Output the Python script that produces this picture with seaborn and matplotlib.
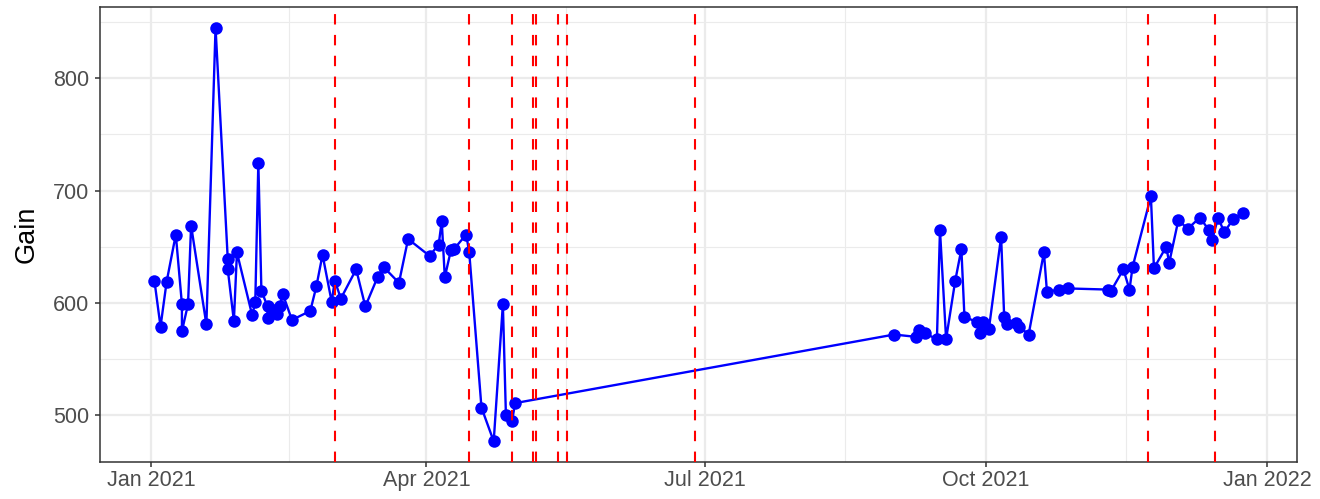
import seaborn as sns
import pandas as pd
import numpy as np
import matplotlib.pyplot as plt
import matplotlib.dates as mdates


# Data
dates = [
    "2021-01-02", "2021-01-04", "2021-01-06", "2021-01-09", "2021-01-11", "2021-01-11", "2021-01-13", "2021-01-14",
    "2021-01-19", "2021-01-22", "2021-01-26", "2021-01-26", "2021-01-28", "2021-01-29",
    "2021-02-03", "2021-02-04", "2021-02-05", "2021-02-06", "2021-02-08", "2021-02-08", "2021-02-10", "2021-02-11",
    "2021-02-12", "2021-02-13",
    "2021-02-16", "2021-02-22", "2021-02-24", "2021-02-26",
    "2021-03-01", "2021-03-02", "2021-03-04", "2021-03-09", "2021-03-12", "2021-03-16", "2021-03-18", "2021-03-23",
    "2021-03-26",
    "2021-04-02", "2021-04-05", "2021-04-06", "2021-04-07", "2021-04-09", "2021-04-10", "2021-04-14", "2021-04-15",
    "2021-04-19", "2021-04-23", "2021-04-26", "2021-04-27", "2021-04-29", "2021-04-30",
    "2021-09-01", "2021-09-08", "2021-09-09", "2021-09-11", "2021-09-15", "2021-09-16", "2021-09-18", "2021-09-21",
    "2021-09-23", "2021-09-24", "2021-09-28", "2021-09-29", "2021-09-30",
    "2021-10-02", "2021-10-06", "2021-10-07", "2021-10-08", "2021-10-11", "2021-10-12", "2021-10-15", "2021-10-20",
    "2021-10-21", "2021-10-25", "2021-10-28",
    "2021-11-10", "2021-11-11", "2021-11-15", "2021-11-17", "2021-11-18", "2021-11-24", "2021-11-25", "2021-11-29",
    "2021-11-30",
    "2021-12-03", "2021-12-06", "2021-12-10", "2021-12-13", "2021-12-14", "2021-12-16", "2021-12-18", "2021-12-21",
    "2021-12-24",
]
gain = [
    620, 579, 619, 661, 599, 575, 599, 669,
    581, 845, 639, 630, 584, 645,
    589, 601, 725, 611, 597, 587, 594, 590, 597, 608,
    585, 593, 615, 643,
    601, 620, 604, 630, 597, 623, 632, 618, 657,
    642, 652, 673, 623, 647, 648, 661, 645, 507, 477, 599, 500, 495, 511,
    572, 570, 576, 573, 568, 665, 568, 620, 648, 588, 583, 573, 583,
    577, 659, 588, 581, 582, 579, 572, 645, 610, 612, 613,
    612, 611, 630, 612, 632, 695, 631, 650, 636,
    674, 666, 676, 665, 656, 676, 663, 675, 680,
]
events = ["2021-03-02", "2021-04-15", "2021-04-29", "2021-05-06", "2021-05-07",
          "2021-05-14", "2021-05-17", "2021-06-28", "2021-11-23", "2021-12-15"]

df = pd.DataFrame({"date": pd.to_datetime(dates), "gain": gain})

sns.set_theme(style="white")
plt.rcParams["font.family"] = ["Liberation Sans", "DejaVu Sans"]

fig = plt.figure(figsize=(13.2, 4.99), dpi=100)
ax = fig.add_axes([100 / 1320, 37 / 499, 1197 / 1320, 455 / 499])

sns.lineplot(data=df, x="date", y="gain", sort=False, estimator=None, color="blue",
             linewidth=1.7, marker="o", markersize=9, markeredgewidth=0, ax=ax, zorder=3)

for d in events:
    ax.axvline(pd.Timestamp(d), color="red", lw=1.5, ls=(0, (5, 5)), zorder=4)

# ggplot-like 5% expansion
x0, x1 = df["date"].min(), df["date"].max()
span = x1 - x0
ax.set_xlim(x0 - 0.05 * span, x1 + 0.05 * span)
y0, y1 = df["gain"].min(), df["gain"].max()
ax.set_ylim(y0 - 0.05 * (y1 - y0), y1 + 0.05 * (y1 - y0))

major = pd.to_datetime(["2021-01-01", "2021-04-01", "2021-07-01", "2021-10-01", "2022-01-01"])
ax.set_xticks(major)
ax.set_xticks(major[:-1] + (major[1:] - major[:-1]) / 2, minor=True)
ax.xaxis.set_major_formatter(mdates.DateFormatter("%b %Y"))
ax.set_yticks([500, 600, 700, 800])
ax.set_yticks([550, 650, 750, 850], minor=True)

ax.grid(which="major", color="#EBEBEB", lw=1.6, zorder=0)
ax.grid(which="minor", color="#EBEBEB", lw=0.8, zorder=0)
ax.set_axisbelow(True)

for s in ax.spines.values():
    s.set_visible(True)
    s.set_color("#333333")
    s.set_linewidth(1.1)

ax.tick_params(which="major", length=3.6, width=1.1, color="#333333",
               labelcolor="#4D4D4D", labelsize=15.5)
ax.tick_params(axis="x", pad=2)
ax.tick_params(axis="y", pad=4)
ax.tick_params(which="minor", length=0)
ax.tick_params(axis="x", bottom=True)
ax.tick_params(axis="y", left=True)

ax.set_xlabel("")
ax.set_ylabel("Gain", fontsize=19.5, color="black", labelpad=10)

fig.savefig("out.png", dpi=100)
